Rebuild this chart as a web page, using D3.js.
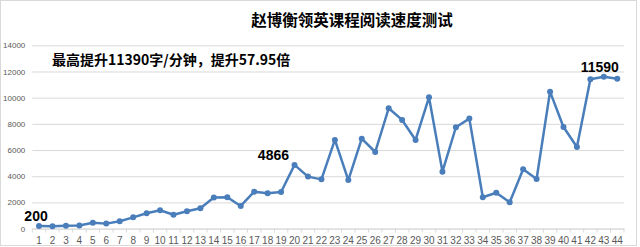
<!DOCTYPE html>
<html>
<head>
<meta charset="utf-8">
<script src="https://cdn.jsdelivr.net/npm/d3@7"></script>
<style>
  html, body { margin: 0; padding: 0; background: #fff; }
  svg { display: block; }
</style>
</head>
<body>
<div id="chart"></div>
<script>
// data
const title = '赵博衡领英课程阅读速度测试';
const note = '最高提升11390字/分钟，提升57.95倍';
const days = ['1','2','3','4','5','6','7','8','9','10','11','12','13','14','15','16','17','18','19','20','21','22',
  '23','24','25','26','27','28','29','30','31','32','33','34','35','36','37','38','39','40','41','42','43','44'];
const speeds = [200, 180, 220, 230, 450, 380, 560, 860, 1170, 1400, 1060, 1320, 1550, 2380, 2390, 1730, 2820, 2700,
  2800, 4866, 3970, 3760, 6770, 3710, 6870, 5850, 9190, 8300, 6770, 10030, 4350, 7740, 8400, 2390, 2740, 2010,
  4530, 3790, 10460, 7760, 6230, 11400, 11590, 11450];
const yTicks = [0, 2000, 4000, 6000, 8000, 10000, 12000, 14000];
// which points get a value label
const labelDays = ['1', '20', '43'];

const config = {
  width: 640, height: 247,
  left: 32.3, right: 624, top: 45.3, bottom: 228.6,
  lineColor: '#4a7ebb', gridColor: '#d9d9d9', tickColor: '#595959'
};

const svg = d3.select('#chart')
  .append('svg')
  .attr('width', config.width)
  .attr('height', config.height);

// outer border of the chart
svg.append('rect')
  .attr('x', 0.5).attr('y', 0.5)
  .attr('width', config.width - 4)
  .attr('height', config.height - 2)
  .attr('fill', '#fff')
  .attr('stroke', '#d9d9d9');

const x = d3.scaleBand()
  .domain(days)
  .range([config.left, config.right])
  .paddingInner(0);
const cx = d => x(d) + x.bandwidth() / 2;

const y = d3.scaleLinear()
  .domain([0, 14000])
  .range([config.bottom, config.top]);

// gridlines + y labels
const gridCall = d3.axisLeft(y)
  .tickValues(yTicks)
  .tickSize(-(config.right - config.left))
  .tickPadding(7)
  .tickFormat(d3.format('d'));

const yAxis = svg.append('g')
  .attr('transform', `translate(${config.left}, 0)`)
  .call(gridCall);
yAxis.select('.domain').remove();
yAxis.selectAll('line').attr('stroke', config.gridColor);
yAxis.selectAll('text')
  .attr('fill', config.tickColor)
  .style('font-family', 'Liberation Sans, Arial, sans-serif')
  .style('font-size', '8px');

// x axis, labels centred in each band
const xCall = d3.axisBottom(x)
  .tickSize(0)
  .tickPadding(8);
const xAxis = svg.append('g')
  .attr('transform', `translate(0, ${config.bottom})`)
  .call(xCall);
xAxis.select('.domain').attr('stroke', config.gridColor);
xAxis.selectAll('text')
  .attr('fill', config.tickColor)
  .style('font-family', 'Liberation Sans, Arial, sans-serif')
  .style('font-size', '10px');

// small tick marks at band edges
svg.append('g')
  .selectAll('line')
  .data(days.concat(['end']))
  .join('line')
  .attr('x1', d => d === 'end' ? config.right : x(d))
  .attr('x2', d => d === 'end' ? config.right : x(d))
  .attr('y1', config.bottom)
  .attr('y2', config.bottom + 4)
  .attr('stroke', config.gridColor);

// the series
const line = d3.line()
  .x((d, i) => cx(days[i]))
  .y(d => y(d));

svg.append('path')
  .datum(speeds)
  .attr('d', line)
  .attr('fill', 'none')
  .attr('stroke', config.lineColor)
  .attr('stroke-width', 2.5)
  .attr('stroke-linejoin', 'round');

svg.append('g')
  .selectAll('circle')
  .data(speeds)
  .join('circle')
  .attr('cx', (d, i) => cx(days[i]))
  .attr('cy', d => y(d))
  .attr('r', 3)
  .attr('fill', config.lineColor);

// value labels
const labelOffset = { '1': [-3, 'middle'], '20': [-5.5, 'end'], '43': [-4, 'middle'] };
svg.append('g')
  .selectAll('text')
  .data(labelDays)
  .join('text')
  .attr('x', d => cx(d) + labelOffset[d][0])
  .attr('y', d => y(speeds[days.indexOf(d)]) - 5)
  .attr('text-anchor', d => labelOffset[d][1])
  .style('font-family', 'Liberation Sans, Arial, sans-serif')
  .style('font-weight', '700')
  .style('font-size', '14px')
  .attr('fill', '#000')
  .text(d => speeds[days.indexOf(d)]);

// title and note
svg.append('text')
  .attr('x', 352)
  .attr('y', 26)
  .attr('text-anchor', 'middle')
  .style('font-family', 'Noto Sans CJK SC, sans-serif')
  .style('font-weight', '700')
  .style('font-size', '15.5px')
  .text(title);

svg.append('text')
  .attr('x', 52)
  .attr('y', 65)
  .style('font-family', 'Noto Sans CJK SC, sans-serif')
  .style('font-weight', '700')
  .style('font-size', '14px')
  .text(note);
</script>
</body>
</html>
